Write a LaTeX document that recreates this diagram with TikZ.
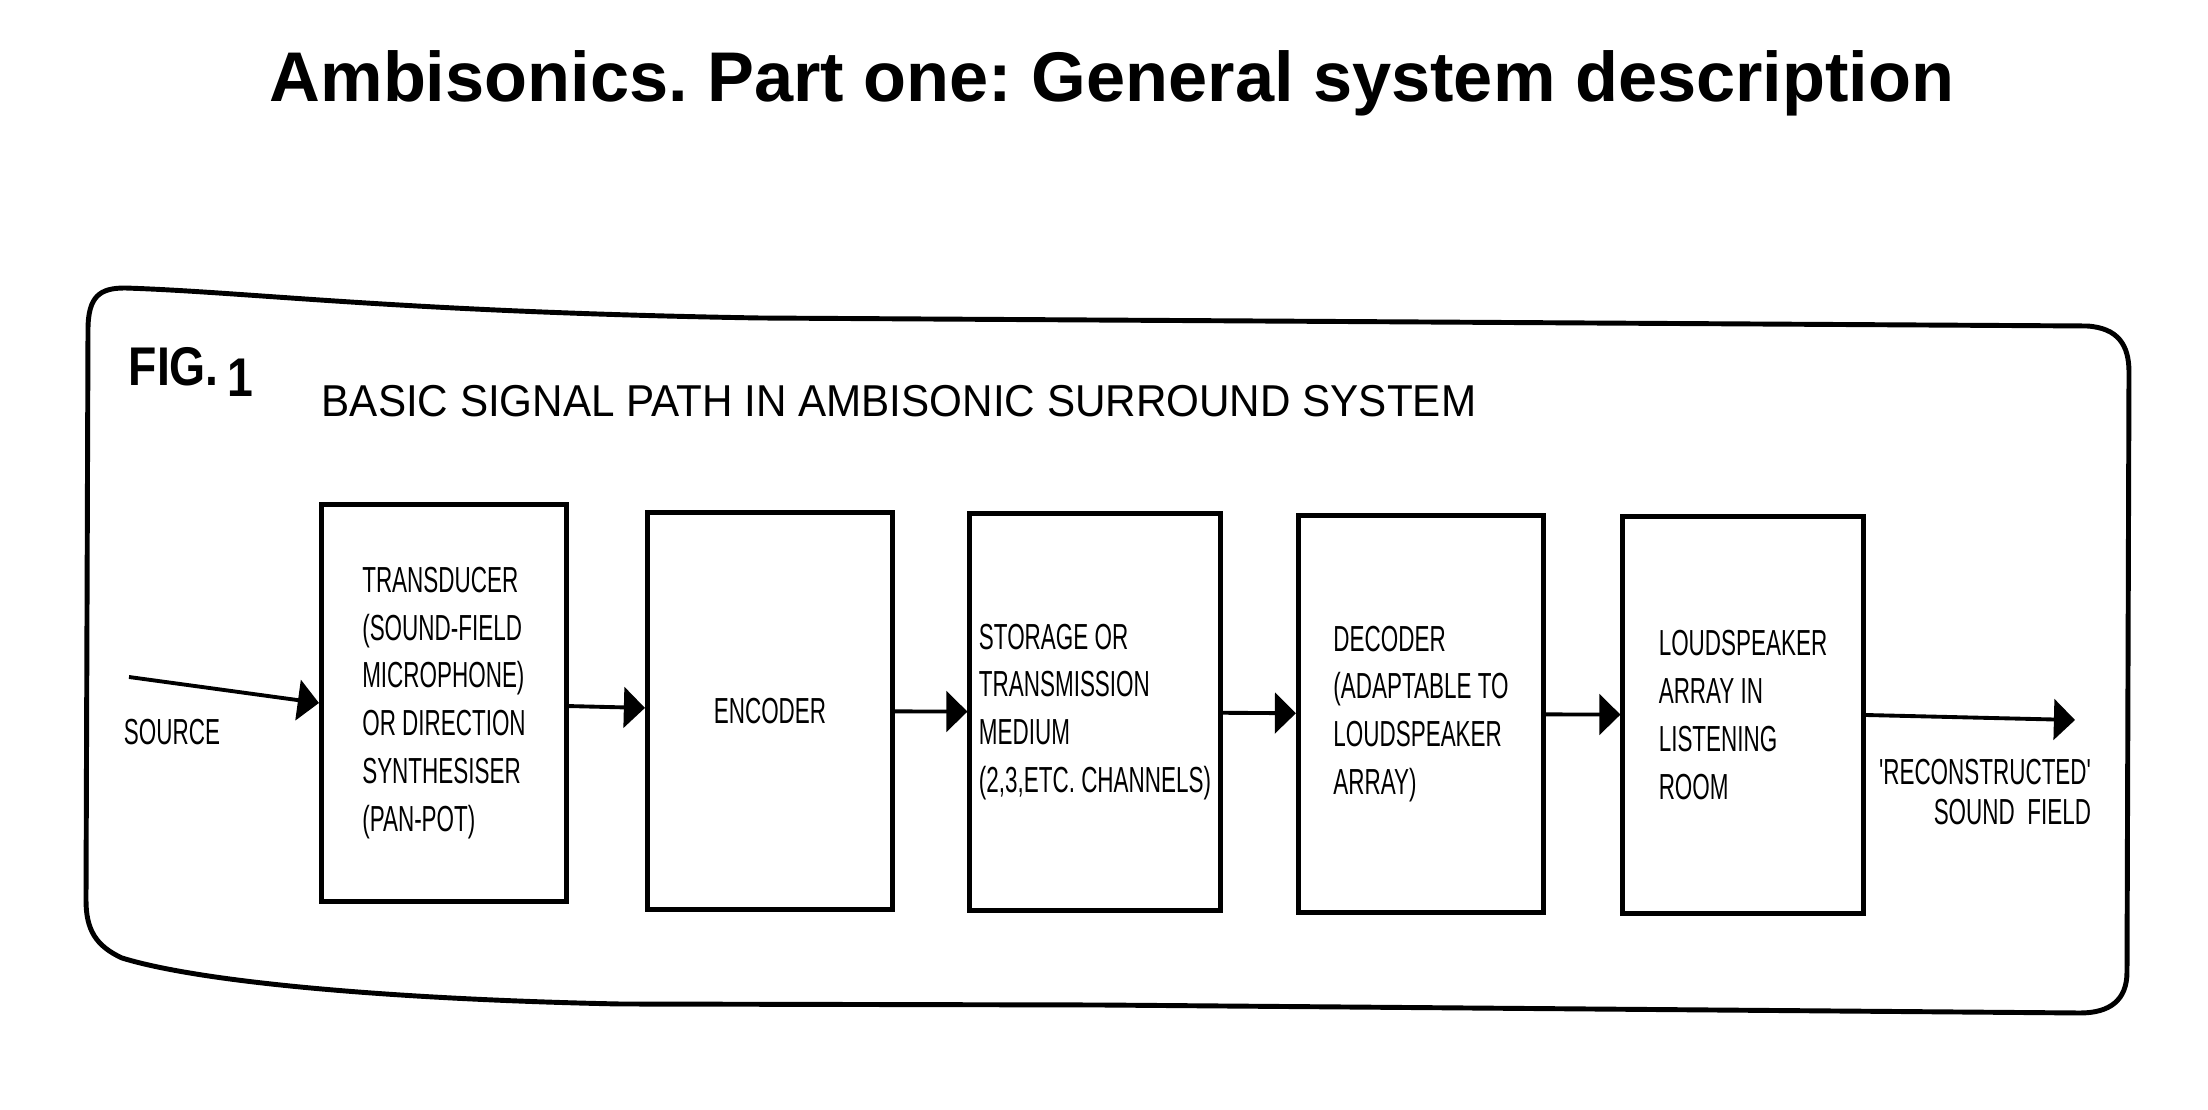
\documentclass[tikz,border=0pt]{standalone}
\usepackage{fontspec}
\setmainfont{Liberation Sans}
\newfontfamily\stencil[FakeStretch=0.62]{Liberation Sans}
\newfontfamily\figfont[FakeStretch=0.85]{Liberation Sans}
\newfontfamily\headfont[FakeStretch=0.945]{Liberation Sans}
\usetikzlibrary{arrows.meta}
\frenchspacing

\begin{document}
\begin{tikzpicture}[x=0.01cm,y=-0.01cm,
  block/.style={draw,line width=1.4pt,minimum width=2.45cm,minimum height=3.97cm,
    align=left,inner sep=0pt,font=\stencil\fontsize{10.3}{13.6}\selectfont},
  lab/.style={inner sep=0pt,font=\stencil\fontsize{10.3}{13.6}\selectfont},
  sig/.style={line width=1.1pt,-{Triangle[length=6pt,width=11.5pt]}},
  frame/.style={line width=1.4pt,line join=round}]
\useasboundingbox (0,0) rectangle (2208,1110);

\node[anchor=base,font=\bfseries\fontsize{20}{24}\selectfont] (title) at (1112,102)
  {Ambisonics. Part one: General system description};

% the hand drawn frame
\draw[frame] (88,330) .. controls (88,296) and (100,288) .. (125,288)
  .. controls (250,292) and (400,312) .. (760,318) -- (2087,326)
  .. controls (2118,328) and (2129,345) .. (2129,372) -- (2127,972)
  .. controls (2127,1000) and (2110,1013) .. (2080,1013) -- (1100,1005) -- (620,1004)
  .. controls (420,1000) and (210,985) .. (122,958)
  .. controls (96,946) and (86,930) .. (86,900) -- cycle;

\node[anchor=base west,inner sep=0pt,font=\figfont\bfseries\fontsize{15.5}{18}\selectfont] (fig) at (128,386)
  {FIG.\,\raisebox{-3pt}{1}};
\node[anchor=base west,inner sep=0pt,font=\headfont\fontsize{12.7}{15}\selectfont] (head) at (321,417)
  {BASIC SIGNAL PATH IN AMBISONIC SURROUND SYSTEM};

\node[block] (tr) at (444,703) {TRANSDUCER\\(SOUND-FIELD\\MICROPHONE)\\OR DIRECTION\\SYNTHESISER\\(PAN-POT)};
\node[block] (enc) at (770,711) {ENCODER};
\node[block,minimum width=2.5cm] (med) at (1095,712) {STORAGE OR\\TRANSMISSION\\MEDIUM\\(2,3,ETC. CHANNELS)};
\node[block] (dec) at (1421,714) {DECODER\\(ADAPTABLE TO\\LOUDSPEAKER\\ARRAY)};
\node[block,minimum width=2.4cm] (ls) at (1743,715) {LOUDSPEAKER\\ARRAY IN\\LISTENING\\ROOM};

\coordinate (src) at (129,677);
\coordinate (out) at (2075,720);
\node[lab] (srclab) at (172,732) {SOURCE};
\node[lab,align=right] (outlab) at (1985,792) {'RECONSTRUCTED'\\[-2pt]SOUND\ \ FIELD};

\draw[sig] (src) -- (tr.west);
\draw[sig] (tr) -- (enc);
\draw[sig] (enc) -- (med);
\draw[sig] (med) -- (dec);
\draw[sig] (dec) -- (ls);
\draw[sig] (ls.east) -- (out);
\end{tikzpicture}
\end{document}
